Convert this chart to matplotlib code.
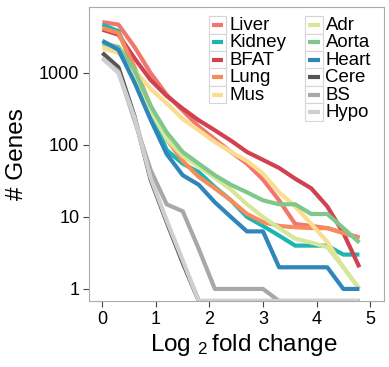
import numpy as np
import matplotlib
matplotlib.use("Agg")
import matplotlib.pyplot as plt
from matplotlib.lines import Line2D
from matplotlib.patches import Rectangle

plt.rcParams['font.family'] = ['Liberation Sans', 'DejaVu Sans']
plt.rcParams['mathtext.fontset'] = 'custom'
plt.rcParams['mathtext.rm'] = 'Liberation Sans'
plt.rcParams['mathtext.default'] = 'regular'

# log2 fold change thresholds
fold = [0.0, 0.3, 0.6, 0.9, 1.2, 1.5, 1.8, 2.1, 2.4, 2.7, 3.0, 3.3, 3.6, 3.9, 4.2, 4.5, 4.8]

tissues = ["Liver", "Kidney", "BFAT", "Lung", "Mus", "Adr", "Aorta", "Heart", "Cere", "BS", "Hypo"]

liver  = [5100, 4700, 2300, 1000, 500, 300, 180, 120, 80, 55, 33, 17, 8, 7.5, 7, 6, 5.2]
kidney = [4700, 3800, 1100, 300, 85, 55, 42, 26, 17, 10, 7.5, 5.5, 4, 4, 4, 3, 3]
bfat   = [4000, 3400, 1600, 800, 480, 320, 220, 160, 115, 80, 62, 48, 34, 25, 14, 6, 2]
lung   = [4200, 3600, 1200, 350, 120, 60, 36, 25, 17, 11, 8.5, 7.5, 7.2, 7, 7, 6, 5]
mus    = [2200, 1900, 1100, 600, 380, 230, 160, 110, 80, 60, 40, 22, 14, 8, 4.5, 2, 1]
adr    = [2500, 2100, 900, 300, 120, 70, 50, 35, 24, 15, 10, 7, 5, 4.4, 3.8, 2, 1]
aorta  = [2600, 2300, 1100, 350, 150, 80, 55, 38, 28, 22, 17, 15, 15, 11, 11, 7, 4.4]
heart  = [2800, 2100, 740, 225, 75, 38, 28, 16, 10, 6.3, 6.3, 2, 2, 2, 2, 1, 1]
cere   = [1900, 1200, 250, 33, 8.5, 2.3, 0, 0, 0, 0, 0, 0, 0, 0, 0, 0, 0]
bs     = [1600, 1050, 220, 45, 15, 12, 3.6, 1, 1, 1, 1, 0, 0, 0, 0, 0, 0]
hypo   = [1600, 1000, 240, 35, 9, 2.5, 0, 0, 0, 0, 0, 0, 0, 0, 0, 0, 0]

series = [liver, kidney, bfat, lung, mus, adr, aorta, heart, cere, bs, hypo]
colors = ['#F2766D', '#1DB5B0', '#D0424F', '#F68B5C', '#FADD8E', '#D6E79B',
          '#7FC78A', '#2E86BA', '#555555', '#A8A8A8', '#CFCFCF']

YMIN, YMAX = 0.68, 8250
W, H = 389, 367

fig = plt.figure(figsize=(W/100, H/100), dpi=100)
ax = fig.add_axes([89/W, 66/H, (383.5-89)/W, (301-7)/H])

for name, vals, col in zip(tissues, series, colors):
    v = np.array(vals, dtype=float)
    v = np.where(v > 0, v, YMIN)
    ax.plot(fold, v, color=col, lw=3.0, solid_joinstyle='round', solid_capstyle='butt')

ax.set_yscale('log')
ax.set_ylim(YMIN, YMAX)
ax.set_xlim(-0.25, 5.25)
ax.set_yticks([1, 10, 100, 1000])
ax.set_yticklabels(['1', '10', '100', '1000'])
ax.minorticks_off()
ax.set_xticks([0, 1, 2, 3, 4, 5])

for s in ax.spines.values():
    s.set_color('#AAAAAA')
    s.set_linewidth(0.8)
ax.tick_params(axis='both', direction='out', length=4, width=0.8, color='#444444',
               labelsize=13, labelcolor='black', pad=3)

ax.set_xlabel('Log $_{2}\\,$fold change', fontsize=17.5)
ax.xaxis.set_label_coords(0.5 + 8/294.5, -0.105)
ax.set_ylabel('# Genes', fontsize=17.5, labelpad=8)

# legend: two columns (5 + 6) with boxed keys, placed inside the panel
def px(x, y):
    return x / W, 1 - y / H

kw, kh = 17.5, 17.4
for i, (name, col) in enumerate(zip(tissues, colors)):
    c, r = (0, i) if i < 5 else (1, i - 5)
    x0 = 209 if c == 0 else 305
    yc = 25 + kh * r
    bx, by = px(x0, yc + kh / 2)
    fig.add_artist(Rectangle((bx, by), kw / W, kh / H, transform=fig.transFigure,
                             facecolor='white', edgecolor='#D5D5D5', lw=0.8, zorder=5))
    lx0, ly = px(x0 + 3, yc)
    lx1, _ = px(x0 + kw - 3, yc)
    fig.add_artist(Line2D([lx0, lx1], [ly, ly], transform=fig.transFigure,
                          color=col, lw=3.0, solid_capstyle='butt', zorder=6))
    tx, ty = px(x0 + 20.5, yc + 0.5)
    fig.text(tx, ty, name, fontsize=13.4, va='center', ha='left', zorder=6)

fig.savefig('out.png', dpi=100)
